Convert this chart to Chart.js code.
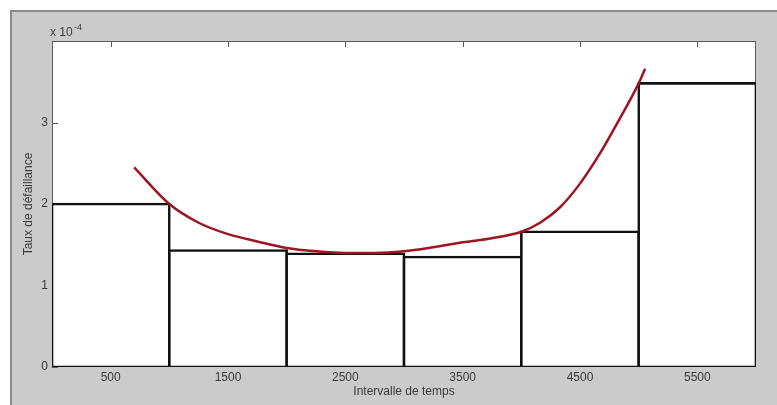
<!DOCTYPE html>
<html>
<head>
<meta charset="utf-8">
<title>Taux de défaillance</title>
<script src="https://cdn.jsdelivr.net/npm/chart.js@4.4.0/dist/chart.umd.min.js"></script>
<style>
  html, body { margin: 0; padding: 0; background: #fff; overflow: hidden; }
  .frame {
    position: absolute; left: 10px; top: 10px; width: 790px; height: 420px;
    background: #cbcbcb; border: 2px solid #8a8a8a; box-sizing: border-box;
  }
  #wrap { position: absolute; left: 0; top: 0; width: 777px; height: 405px; }
</style>
</head>
<body>
<div class="frame"></div>
<div id="wrap"><canvas id="chart"></canvas></div>
<script>
// histogramme : centre des intervalles et taux (unité 1e-4)
const binCenters = [500, 1500, 2500, 3500, 4500, 5500];
const failureRates = [2.00, 1.43, 1.39, 1.35, 1.66, 3.48];

// courbe ajustée (baignoire)
const fitTimes = [700, 1000, 1250, 1500, 1750, 2000, 2250, 2500, 2750, 3000, 3250, 3500, 3750, 4000, 4160, 4330, 4500, 4670, 4840, 5000, 5055];
const fitRates = [2.45, 2.00, 1.77, 1.63, 1.54, 1.46, 1.42, 1.40, 1.40, 1.42, 1.47, 1.53, 1.58, 1.66, 1.77, 1.96, 2.25, 2.62, 3.05, 3.48, 3.66];

const xTicks = [500, 1500, 2500, 3500, 4500, 5500];
const yTicks = [0, 1, 2, 3];

const axisFont = { family: 'Arial, "Liberation Sans", sans-serif', size: 12 };
const textColor = '#3a3a3a';

// fond blanc du tracé, cadre et graduations intérieures (sous les barres)
const plotFrame = {
  id: 'plotFrame',
  beforeDatasetsDraw(chart) {
    const { ctx, chartArea: a, scales: { x, y } } = chart;
    ctx.save();
    ctx.fillStyle = '#ffffff';
    ctx.fillRect(a.left, a.top, a.right - a.left, a.bottom - a.top);
    ctx.strokeStyle = '#5a5a5a';
    ctx.lineWidth = 1;
    ctx.strokeRect(a.left + 0.5, a.top + 0.5, a.right - a.left - 1, a.bottom - a.top - 1);
    ctx.beginPath();
    xTicks.forEach(v => {
      const px = Math.round(x.getPixelForValue(v)) + 0.5;
      ctx.moveTo(px, a.top);
      ctx.lineTo(px, a.top + 6);
    });
    yTicks.forEach(v => {
      const py = Math.round(y.getPixelForValue(v)) + 0.5;
      ctx.moveTo(a.left, py);
      ctx.lineTo(a.left + 6, py);
    });
    ctx.stroke();
    ctx.restore();
  },
  afterDraw(chart) {
    const { ctx, chartArea: a } = chart;
    ctx.save();
    ctx.fillStyle = textColor;
    ctx.textBaseline = 'alphabetic';
    ctx.font = '12px Arial, "Liberation Sans", sans-serif';
    ctx.fillText('x 10', a.left - 2, a.top - 5);
    ctx.font = '9px Arial, "Liberation Sans", sans-serif';
    ctx.fillText('-4', a.left + 22, a.top - 11);
    ctx.restore();
  }
};

new Chart(document.getElementById('chart'), {
  type: 'bar',
  data: {
    datasets: [
      {
        type: 'line',
        data: fitTimes.map((t, i) => ({ x: t, y: fitRates[i] })),
        borderColor: '#9e1522',
        borderWidth: 2.5,
        pointRadius: 0,
        cubicInterpolationMode: 'monotone',
        fill: false
      },
      {
        type: 'bar',
        data: binCenters.map((c, i) => ({ x: c, y: failureRates[i] })),
        backgroundColor: '#ffffff',
        borderColor: '#111111',
        // bordure centrée sur le bord de chaque barre
        borderWidth: 2.6,
        inflateAmount: 1.3,
        borderSkipped: false,
        barPercentage: 1,
        categoryPercentage: 1
      }
    ]
  },
  options: {
    responsive: true,
    maintainAspectRatio: false,
    animation: false,
    events: [],
    layout: { padding: { left: 0, top: 41, right: 21, bottom: 0 } },
    plugins: { legend: { display: false }, tooltip: { enabled: false } },
    scales: {
      x: {
        type: 'linear',
        min: 0,
        max: 6000,
        offset: false,
        afterBuildTicks: s => { s.ticks = xTicks.map(v => ({ value: v })); },
        afterFit: s => { s.height = 38; },
        grid: { display: false, drawTicks: false },
        border: { display: false },
        ticks: { font: axisFont, color: textColor, padding: 3, maxRotation: 0, callback: v => String(v) },
        title: {
          display: true,
          text: 'Intervalle de temps',
          font: axisFont,
          color: textColor,
          padding: { top: 0, bottom: 6 }
        }
      },
      y: {
        min: 0,
        max: 4,
        afterBuildTicks: s => { s.ticks = yTicks.map(v => ({ value: v })); },
        afterFit: s => { s.width = 52; },
        grid: { display: false, drawTicks: false },
        border: { display: false },
        ticks: { font: axisFont, color: textColor, padding: 4, callback: v => String(v) },
        title: {
          display: true,
          text: 'Taux de défaillance',
          font: axisFont,
          color: textColor,
          padding: { top: 21, bottom: 0 }
        }
      }
    }
  },
  plugins: [plotFrame]
});
</script>
</body>
</html>
